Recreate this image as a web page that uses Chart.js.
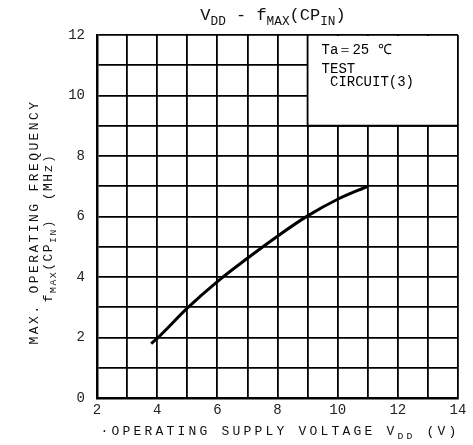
<!DOCTYPE html>
<html>
<head>
<meta charset="utf-8">
<script src="https://cdn.jsdelivr.net/npm/chart.js@4"></script>
<style>
  body { margin: 0; background: #fff; }
  #box { width: 473px; height: 445px; }
</style>
</head>
<body>
<div id="box"><canvas id="myChart"></canvas></div>
<script>
const ctx = document.getElementById('myChart').getContext('2d');

// curva: VDD (V) x fMAX (MHz)
const vdd = [3.8, 4, 5, 6, 7, 8, 9, 10, 11];
const fmax = [1.8, 1.97, 2.97, 3.85, 4.62, 5.35, 6.02, 6.57, 7.0];
const notas = ['Ta\uFF1D25 \u2103', 'TEST', ' CIRCUIT(3)'];

const FONTE = '"Liberation Mono", "DejaVu Sans Mono", monospace';

// escreve texto com partes subscritas
function textoSub(c, partes, x, y, tam, alinhar) {
  let largura = 0;
  partes.forEach(p => {
    c.font = (p.sub ? tam * 0.75 : tam) + 'px ' + FONTE;
    largura += c.measureText(p.t).width;
  });
  let px = alinhar === 'center' ? x - largura / 2 : x;
  c.textAlign = 'left';
  c.textBaseline = 'alphabetic';
  partes.forEach(p => {
    c.font = (p.sub ? tam * 0.75 : tam) + 'px ' + FONTE;
    c.fillText(p.t, px, y + (p.sub ? tam * 0.3 : 0));
    px += c.measureText(p.t).width;
  });
}

const extras = {
  id: 'extras',
  afterDatasetsDraw(chart) {
    const c = chart.ctx;
    const sx = chart.scales.x, sy = chart.scales.y;
    c.save();
    // caixa de condições
    const x0 = sx.getPixelForValue(9), x1 = sx.getPixelForValue(14);
    const y0 = sy.getPixelForValue(12), y1 = sy.getPixelForValue(9);
    c.fillStyle = '#fff';
    c.fillRect(x0, y0 + 1, x1 - x0 - 1, y1 - y0 - 1);
    c.strokeStyle = '#000';
    c.lineWidth = 1.8;
    c.beginPath();
    c.moveTo(x0, y0); c.lineTo(x0, y1); c.lineTo(x1, y1);
    c.stroke();
    c.fillStyle = '#000';
    c.font = '14px ' + FONTE;
    c.textAlign = 'left';
    c.fillText(notas[0], x0 + 14, y0 + 19);
    c.fillText(notas[1], x0 + 14, y0 + 38);
    c.fillText(notas[2], x0 + 14, y0 + 51);

    // título
    c.fillStyle = '#111';
    textoSub(c, [{ t: 'V' }, { t: 'DD', sub: true }, { t: ' - f' }, { t: 'MAX', sub: true },
      { t: '(CP' }, { t: 'IN', sub: true }, { t: ')' }], 273, 20, 17, 'center');

    // título eixo x
    c.letterSpacing = '3.2px';
    textoSub(c, [{ t: '\u00B7OPERATING SUPPLY VOLTAGE V' }, { t: 'DD', sub: true }, { t: ' (V)' }],
      280, 435, 13, 'center');

    // título eixo y
    c.letterSpacing = '2.4px';
    c.save();
    c.translate(38, 222);
    c.rotate(-Math.PI / 2);
    textoSub(c, [{ t: 'MAX. OPERATING FREQUENCY' }], 0, 0, 13, 'center');
    c.restore();
    c.letterSpacing = '1.5px';
    c.save();
    c.translate(52, 228);
    c.rotate(-Math.PI / 2);
    textoSub(c, [{ t: 'f' }, { t: 'MAX', sub: true }, { t: '(CP' }, { t: 'IN', sub: true },
      { t: ')  (MHz)' }], 0, 0, 13, 'center');
    c.restore();
    c.restore();
  }
};

new Chart(ctx, {
  type: 'scatter',
  data: {
    datasets: [{
      data: vdd.map((v, i) => ({ x: v, y: fmax[i] })),
      showLine: true,
      borderColor: '#000',
      borderWidth: 3,
      pointRadius: 0,
      cubicInterpolationMode: 'monotone'
    }]
  },
  options: {
    responsive: true,
    maintainAspectRatio: false,
    animation: false,
    layout: { padding: { top: 35, right: 15, left: 0, bottom: 0 } },
    plugins: { legend: { display: false }, tooltip: { enabled: false } },
    scales: {
      x: {
        type: 'linear',
        min: 2, max: 14,
        afterFit(s) { s.height = 47; },
        border: { color: '#000', width: 2.5 },
        grid: { color: '#000', lineWidth: 1.8, drawTicks: false },
        ticks: {
          stepSize: 1, autoSkip: false, maxRotation: 0, padding: 4,
          color: '#222', font: { family: FONTE, size: 14 },
          callback: v => (v % 2 === 0 ? String(v) : '')
        }
      },
      y: {
        min: 0, max: 12,
        afterFit(s) { s.width = 97; },
        border: { color: '#000', width: 2.5 },
        grid: { color: '#000', lineWidth: 1.8, drawTicks: false },
        ticks: {
          stepSize: 1, autoSkip: false, padding: 12,
          color: '#222', font: { family: FONTE, size: 14 },
          callback: v => (v % 2 === 0 ? String(v) : '')
        }
      }
    }
  },
  plugins: [extras]
});
</script>
</body>
</html>
